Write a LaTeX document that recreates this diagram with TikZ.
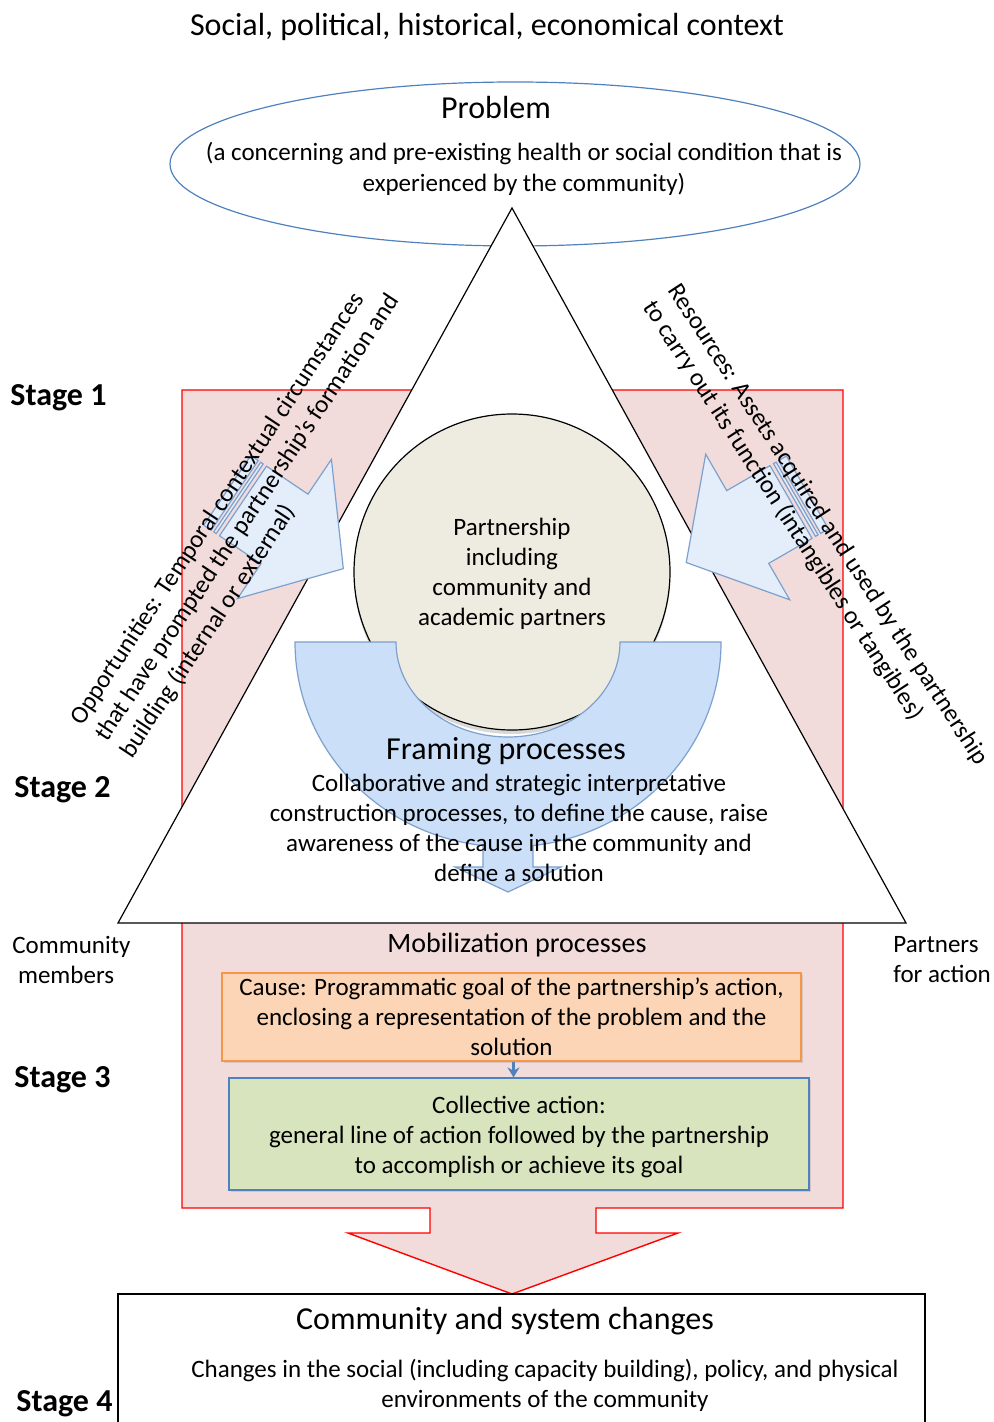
\documentclass[tikz,border=0pt]{standalone}
\usepackage{fontspec}
\setmainfont{Carlito}
\usetikzlibrary{shadows,arrows.meta}

\definecolor{pinkfill}{RGB}{242,220,219}
\definecolor{ellblue}{RGB}{79,129,189}
\definecolor{circfill}{RGB}{238,236,225}
\definecolor{frameblue}{RGB}{203,223,248}
\definecolor{frameline}{RGB}{125,160,205}
\definecolor{arrowfill}{RGB}{228,238,251}
\definecolor{causefill}{RGB}{251,213,181}
\definecolor{causeline}{RGB}{247,150,70}
\definecolor{actfill}{RGB}{215,228,189}

\begin{document}
\begin{tikzpicture}[x=0.5pt,y=-0.5pt,
  every node/.style={font=\fontsize{12.5}{15}\selectfont,align=center},
  big/.style={font=\fontsize{16}{19}\selectfont},
  stage/.style={font=\fontsize{16}{19}\selectfont\bfseries,anchor=west,inner sep=0pt},
  sidearrow/.style={fill=arrowfill,draw=frameline,line width=0.6pt},
  procbox/.style={draw,line width=0.6pt,drop shadow={opacity=0.25,shadow xshift=1pt,shadow yshift=-1pt}}]
  \useasboundingbox (0,0) rectangle (993,1422);

  \draw[red,fill=pinkfill,line width=0.7pt]
    (182,390) -- (843,390) -- (843,1208) -- (596,1208) -- (596,1233) -- (678,1233)
    -- (512,1294) -- (348,1233) -- (430,1233) -- (430,1208) -- (182,1208) -- cycle;
  \draw[ellblue,line width=0.6pt] (515,164) ellipse [x radius=345, y radius=82];
  \draw[fill=white,line width=0.6pt]
    (512,208) coordinate (apex) -- (906,923) coordinate (partners) -- (118,923) coordinate (community) -- cycle;

  \node[font=\fontsize{16}{19}\selectfont] (context) at (487,27) {Social, political, historical, economical context};
  \node[big] (problem) at (496,108) {Problem};
  \node[font=\fontsize{12.5}{15.5}\selectfont] (problemtext) at (524,169)
    {(a concerning and pre-existing health or social condition that is\\experienced by the community)};

  \node[circle,draw,fill=circfill,line width=0.6pt,minimum size=158pt,inner sep=0pt,
    drop shadow={opacity=0.3,shadow xshift=0pt,shadow yshift=-2pt}] (partner) at (512,572) {};
  \node (partnertext) at (512,574) {Partnership\\including\\community and\\academic partners};

  \draw[fill=frameblue,draw=frameline,line width=0.6pt]
    (295,642) arc[start angle=180,end angle=96.74,x radius=213,y radius=205]
    -- (483,867) -- (455,867) -- (508,892) -- (561,867) -- (533,867) -- (533,845.6)
    arc[start angle=83.26,end angle=0,x radius=213,y radius=205]
    -- (620,642) arc[start angle=0,end angle=180,x radius=112,y radius=95] -- cycle;

  \foreach \ax/\ay/\ang in {243/501/-34,791/502/-150}{
    \begin{scope}[shift={(\ax,\ay)},rotate=\ang]
      \draw[sidearrow] (0,-42) -- (50,-42) -- (50,-84) -- (121,0) -- (50,84) -- (50,42) -- (0,42) -- cycle;
      \draw[sidearrow] (-19,-42) rectangle (-10,42);
      \draw[sidearrow] (-7,-42) rectangle (-4,42);
    \end{scope}
  }

  \node[rotate=56.5,align=left] (opportunities) at (248,518)
    {Opportunities: Temporal contextual circumstances\\that have prompted the partnership's formation and\\building (internal or external)};
  \node[rotate=-57,align=left] (resources) at (815,533)
    {Resources: Assets acquired and used by the partnership\\to carry out its function (intangibles or tangibles)};

  \node[stage] (stage1) at (10,398) {Stage 1};
  \node[stage] (stage2) at (14,790) {Stage 2};
  \node[stage] (stage3) at (14,1080) {Stage 3};
  \node[stage] (stage4) at (16,1404) {Stage 4};
  \node[anchor=west,inner sep=0pt,align=left] (members) at (12,960) {Community\\\ members};
  \node[anchor=west,inner sep=0pt,align=left] (foraction) at (893,960) {Partners\\for action};

  \node[big] (framing) at (506,751) {Framing processes};
  \node (framingtext) at (519,828)
    {Collaborative and strategic interpretative\\construction processes, to define the cause, raise\\awareness of the cause in the community and\\define a solution};

  \node[font=\fontsize{14}{17}\selectfont] (mobilization) at (517,945) {Mobilization processes};
  \node[procbox,fill=causefill,draw=causeline,minimum width=289.5pt,minimum height=44pt] (cause) at (511.5,1017) {};
  \node (causetext) at (511.5,1017)
    {Cause: Programmatic goal of the partnership's action,\\enclosing a representation of the problem and the\\solution};
  \node[procbox,fill=actfill,draw=ellblue,minimum width=290pt,minimum height=56pt] (action) at (519,1134) {};
  \node (actiontext) at (519,1137)
    {Collective action:\\general line of action followed by the partnership\\to accomplish or achieve its goal};
  \draw[-{Stealth[length=5pt,width=6pt]},ellblue,line width=1.2pt] ([xshift=1pt]cause.south) -- ([xshift=1pt]cause.south |- action.north);

  \draw[fill=white,line width=0.6pt,drop shadow={opacity=0.2,shadow xshift=0pt,shadow yshift=-1pt}] (118,1294) rectangle (925,1460);
  \node[big] (changes) at (505,1321) {Community and system changes};
  \node (changestext) at (545,1385)
    {Changes in the social (including capacity building), policy, and physical\\environments of the community};
\end{tikzpicture}
\end{document}
